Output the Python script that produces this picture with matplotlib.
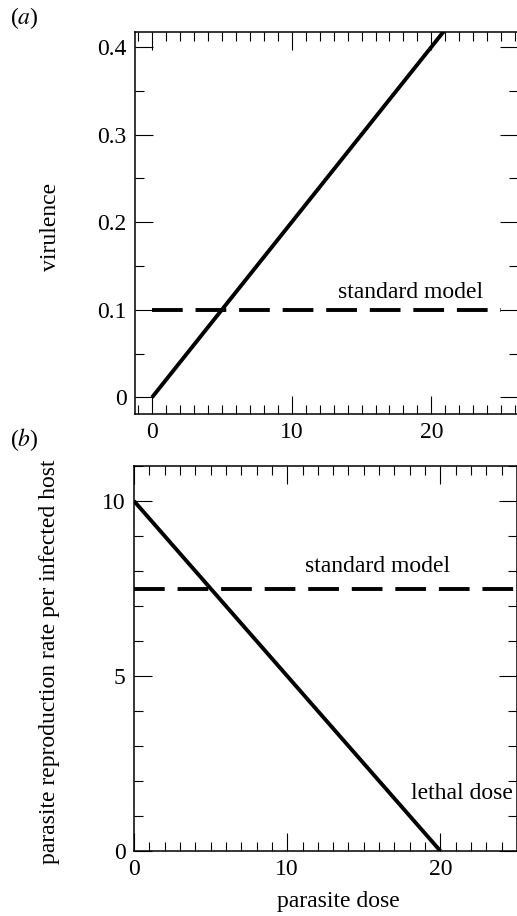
import numpy as np
import matplotlib
matplotlib.use('Agg')
import matplotlib.pyplot as plt
from matplotlib.ticker import MultipleLocator

plt.rcParams['font.family'] = ['Liberation Serif', 'DejaVu Serif']
plt.rcParams['mathtext.fontset'] = 'stix'
plt.rcParams['font.size'] = 17

# panel (a): virulence against parasite dose
dose_a = [0, 25]
virulence = [0, 0.5]
standard_dose_a = [0, 25]
standard_virulence = [0.1, 0.1]
yticks_a = [0, 0.1, 0.2, 0.3, 0.4]
yticklabels_a = ['0', '0.1', '0.2', '0.3', '0.4']

# panel (b): parasite reproduction rate against parasite dose
dose_b = [0, 20]
reproduction = [10, 0]
standard_dose_b = [0, 25]
standard_reproduction = [7.5, 7.5]
yticks_b = [0, 5, 10]

xticks = [0, 10, 20]

W, H = 517, 916
fig = plt.figure(figsize=(W / 100, H / 100), dpi=100)


def style_axis(ax):
    ax.tick_params(which='both', direction='in', top=True, right=True,
                   width=0.8, labelsize=17)
    ax.tick_params(which='major', length=13, pad=6)
    ax.tick_params(which='minor', length=6.5)
    for s in ax.spines.values():
        s.set_linewidth(1.1)


dash = (0, (7.9, 3.3))

# top panel
ax1 = fig.add_axes([135 / W, 1 - 414 / H, 383 / W, 382 / H])
ax1.plot(dose_a, virulence, color='black', lw=2.8, solid_capstyle='butt')
ax1.plot(standard_dose_a, standard_virulence, color='black', lw=2.8, linestyle=dash)
ax1.set_xlim(-1.22, 26.2)
ax1.set_ylim(-0.019, 0.417)
ax1.set_xticks(xticks)
ax1.set_yticks(yticks_a)
ax1.set_yticklabels(yticklabels_a)
ax1.xaxis.set_minor_locator(MultipleLocator(1))
ax1.yaxis.set_minor_locator(MultipleLocator(0.05))
style_axis(ax1)
ax1.text(18.5, 0.12, 'standard model', ha='center', va='center', fontsize=17)

# bottom panel
ax2 = fig.add_axes([134 / W, 1 - 851 / H, 383 / W, 385 / H])
ax2.plot(dose_b, reproduction, color='black', lw=2.8, solid_capstyle='butt')
ax2.plot(standard_dose_b, standard_reproduction, color='black', lw=2.8, linestyle=dash)
ax2.set_xlim(0, 25)
ax2.set_ylim(0, 11)
ax2.set_xticks(xticks)
ax2.set_yticks(yticks_b)
ax2.xaxis.set_minor_locator(MultipleLocator(1))
ax2.yaxis.set_minor_locator(MultipleLocator(1))
style_axis(ax2)
ax2.text(15.9, 8.14, 'standard model', ha='center', va='center', fontsize=17)
ax2.text(21.4, 1.63, 'lethal dose', ha='center', va='center', fontsize=17)

# labels
fig.text(50 / W, 1 - 227 / H, 'virulence', rotation=90, ha='center', va='center', fontsize=17)
fig.text(50 / W, 1 - 662 / H, 'parasite reproduction rate per infected host',
         rotation=90, ha='center', va='center', fontsize=17)
fig.text(338 / W, 1 - 902 / H, 'parasite dose', ha='center', va='center', fontsize=17)
fig.text(10 / W, 1 - 18 / H, r'($\mathit{a}$)', ha='left', va='center', fontsize=17)
fig.text(10 / W, 1 - 440 / H, r'($\mathit{b}$)', ha='left', va='center', fontsize=17)

fig.savefig('out.png', dpi=100)
